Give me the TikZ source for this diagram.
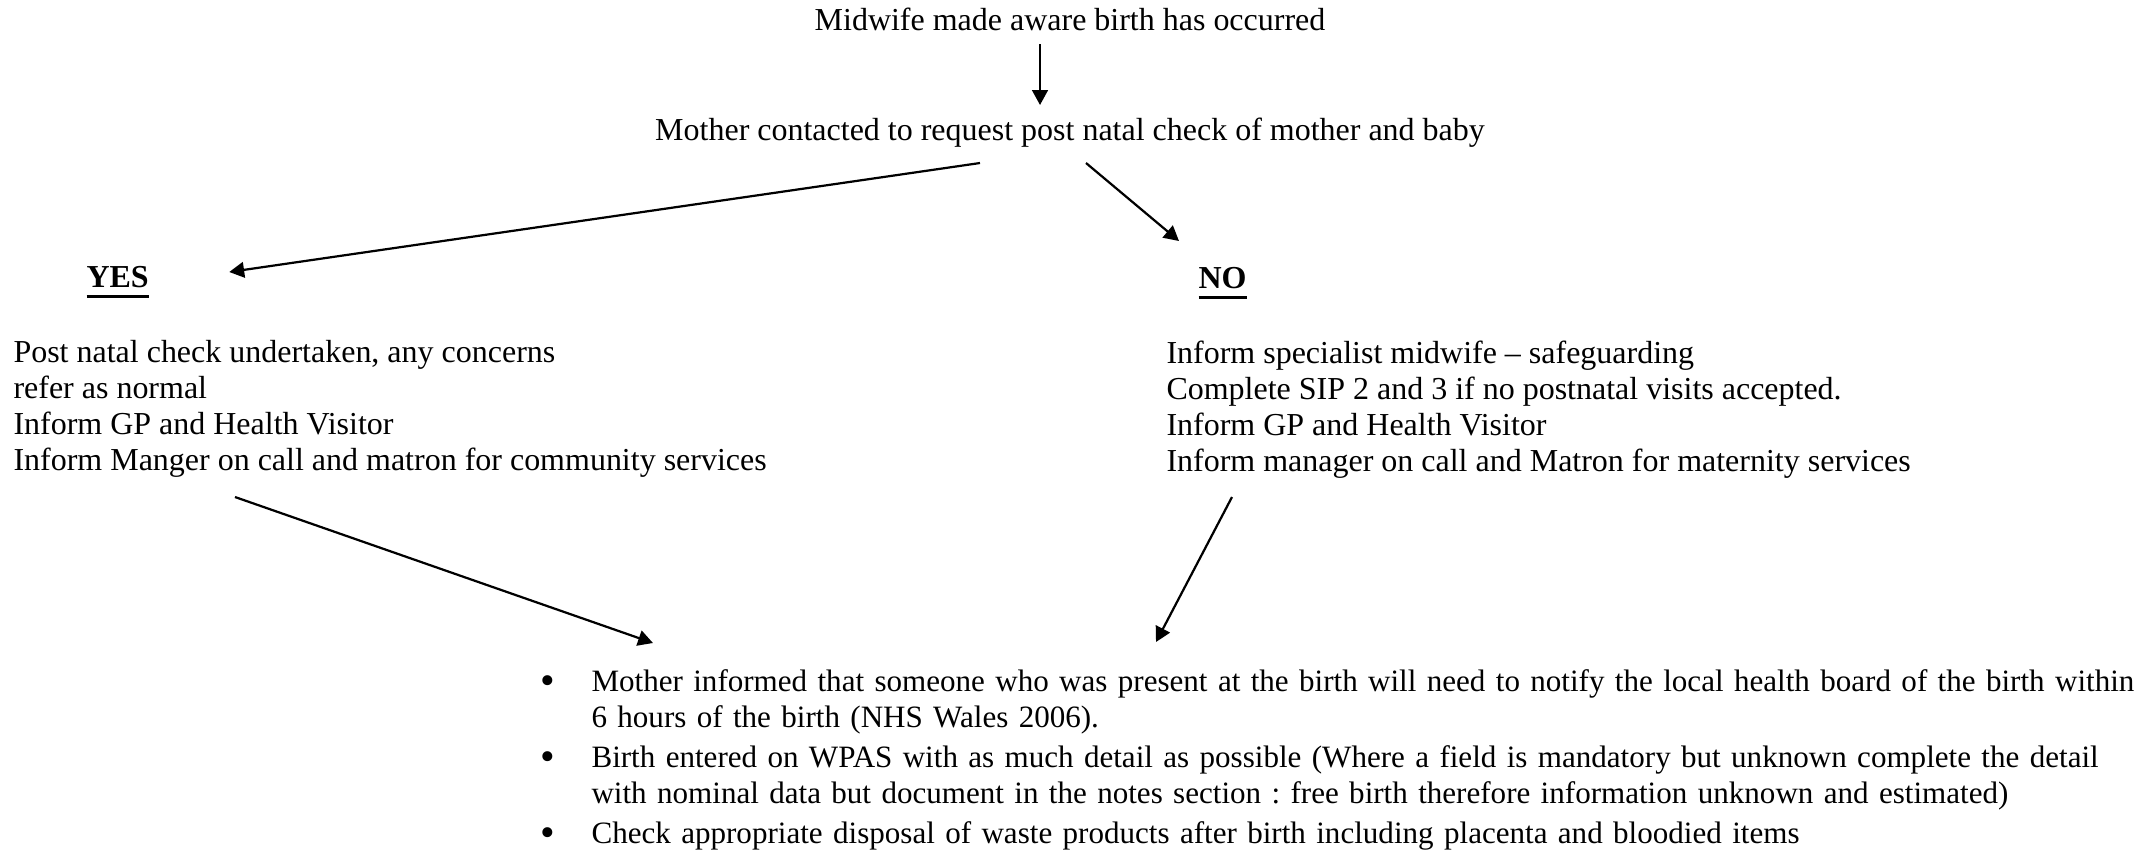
\documentclass[tikz,border=0pt]{standalone}
\usepackage{fontspec}
\setmainfont{Liberation Serif}
\usepackage{enumitem}
\usetikzlibrary{arrows.meta,calc}
% bold word with a heavy underline
\newcommand{\boldul}[1]{\setbox0=\hbox{\bfseries #1}\rlap{\rule[-4.3pt]{\wd0}{1.2pt}}\box0}
% large round list bullet
\newcommand{\bigdot}{\raisebox{-1.3pt}{\fontsize{16}{16}\selectfont\textbullet}}
\frenchspacing

\begin{document}
\begin{tikzpicture}[%
    x=0.383pt, y=-0.383pt,      % One unit is one pixel of the sketch, y going down
    every node/.style={inner sep=0pt},
    >={Triangle[length=5.7pt,width=6pt]},
    ]
% -------------------------------------------------
% Text styles
\tikzset{
  node font=\fontsize{12.25}{13.8}\selectfont,
  line/.style={anchor=base},
  head/.style={anchor=base west},
  block/.style={anchor=north west, align=left},
  list/.style={anchor=north west, align=left, text width=640pt,
    node font=\fontsize{11.9}{13.8}\selectfont},
  % -------------------------------------------------
  % Connector line style
  norm/.style={->, draw, line width=0.85pt},
}
\useasboundingbox (0,0) rectangle (2148,854);
% -------------------------------------------------
% Start by placing the nodes
\node [line] (aware) at (1070,30) {Midwife made aware birth has occurred};
\node [line] (contact) at (1070,140) {Mother contacted to request post natal check of mother and baby};
\node [head] (yes) at (86,287) {\boldul{YES}};
\node [head] (no) at (1198,288) {\boldul{NO}};
\node [block] (yesbox) at (13,340) {Post natal check undertaken, any concerns\\
  refer as normal\\
  Inform GP and Health Visitor\\
  Inform Manger on call and matron for community services};
\node [block] (nobox) at (1166,340) {Inform specialist midwife -- safeguarding\\
  Complete SIP 2 and 3 if no postnatal visits accepted.\\
  Inform GP and Health Visitor\\
  Inform manager on call and Matron for maternity services};
\node [list] (notify) at (544,655) {\raggedright
  \begin{itemize}[leftmargin=18pt, labelsep=14pt, topsep=0pt, partopsep=0pt,
      parsep=0pt, itemsep=1.5pt, label=\bigdot]
  \item Mother informed that someone who was present at the birth will need to notify the local health board of the birth within\newline
    6 hours of the birth (NHS Wales 2006).
  \item Birth entered on WPAS with as much detail as possible (Where a field is mandatory but unknown complete the detail\newline
    with nominal data but document in the notes section : free birth therefore information unknown and estimated)
  \item Check appropriate disposal of waste products after birth including placenta and bloodied items
  \end{itemize}};
% -------------------------------------------------
% Now the connectors
\draw [norm] ($(aware.base)+(-30,14)$) -- ($(contact.base)+(-30,-35)$);
\draw [norm] ($(contact.base)+(-90,23)$) -- ($(yes.base east)+(80,-15)$);
\draw [norm] ($(contact.base)+(16,23)$) -- ($(no.base west)+(-19,-47)$);
\draw [norm] ($(yesbox.north west)+(222,157)$) -- ($(notify.north west)+(109,-12)$);
\draw [norm] ($(nobox.north west)+(66,157)$) -- ($(notify.north west)+(612,-13)$);
% -------------------------------------------------
\end{tikzpicture}
\end{document}
